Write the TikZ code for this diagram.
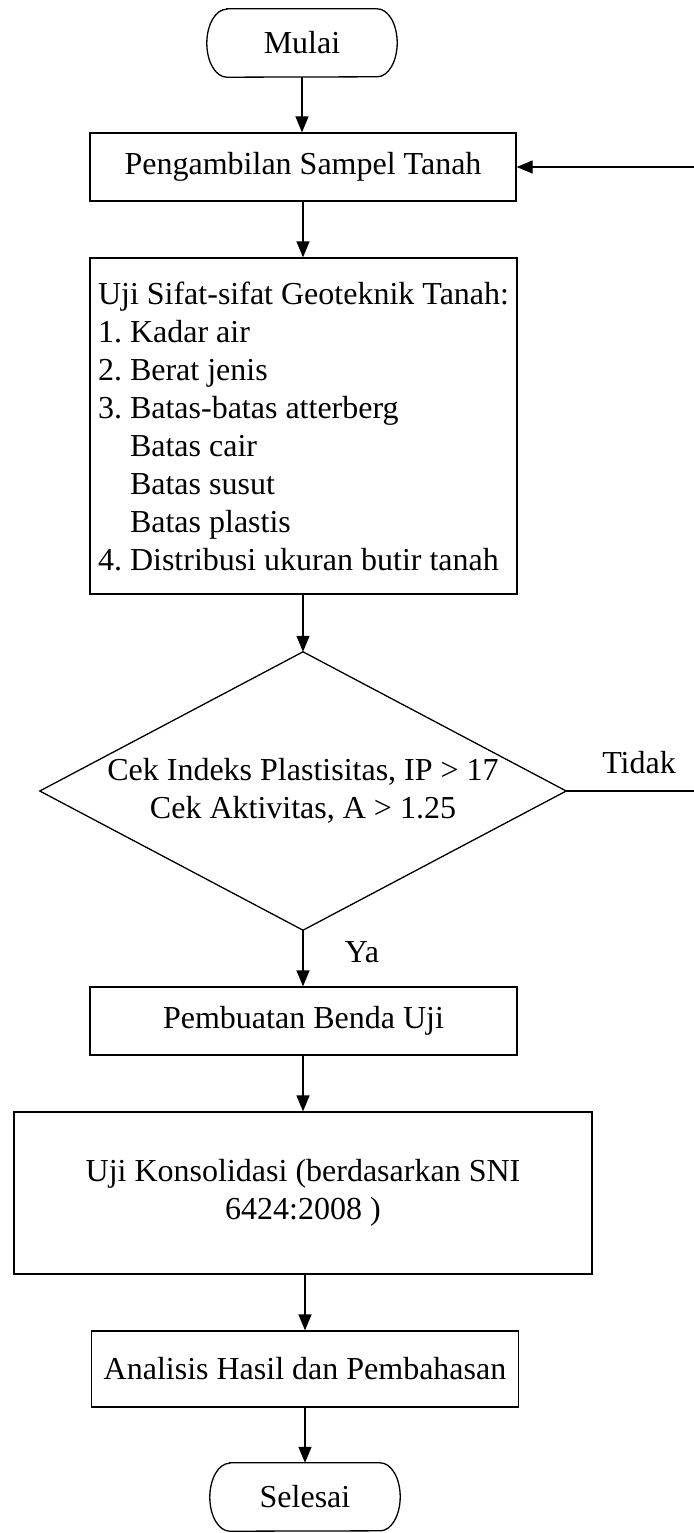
\documentclass[tikz,border=0pt]{standalone}
\usepackage{fontspec}
\setmainfont{Liberation Serif}
\usetikzlibrary{arrows.meta}
\frenchspacing
\begin{document}
\begin{tikzpicture}[x=1pt,y=1pt,
  font=\fontsize{32}{38}\selectfont\frenchspacing,
  ln/.style={line width=1.3pt},
  box/.style={draw,line width=1.3pt,inner sep=0pt,align=center},
  term/.style={inner sep=0pt,minimum width=190pt,minimum height=68pt},
  arr/.style={line width=1.3pt,-{Triangle[length=16pt,width=13pt]}},
  lbl/.style={anchor=base,inner sep=0pt}]
\useasboundingbox (0,0) rectangle (693,-1533);

% terminators
\node[term] (start) at (302,-43) {Mulai};
\draw[ln] ([xshift=20pt]start.north west) -- ([xshift=-20pt]start.north east)
  arc[start angle=90,end angle=-90,x radius=20pt,y radius=34pt]
  -- ([xshift=20pt]start.south west)
  arc[start angle=270,end angle=90,x radius=20pt,y radius=34pt] -- cycle;

\node[box,minimum width=426pt,minimum height=68pt] (peng) at (303,-167) {Pengambilan Sampel Tanah};

\node[box,minimum width=427pt,minimum height=336pt,align=left] (geo) at (303.5,-426)
  {Uji Sifat-sifat Geoteknik Tanah:\\
   1. Kadar air\\
   2. Berat jenis\\
   3. Batas-batas atterberg\\
   \hphantom{1.~}Batas cair\\
   \hphantom{1.~}Batas susut\\
   \hphantom{1.~}Batas plastis\\
   4. Distribusi ukuran butir tanah};

\node[inner sep=0pt,minimum width=526pt,minimum height=278pt,align=center] (dec) at (303,-791)
  {Cek Indeks Plastisitas, IP > 17\\Cek Aktivitas, A > 1.25};
\draw[ln] (dec.north) -- (dec.east) -- (dec.south) -- (dec.west) -- cycle;

\node[box,minimum width=427pt,minimum height=68pt] (buat) at (303.5,-1021) {Pembuatan Benda Uji};

\node[box,minimum width=578pt,minimum height=162pt] (kons) at (303,-1193)
  {Uji Konsolidasi (berdasarkan SNI\\6424:2008 )};

\node[box,minimum width=427pt,minimum height=76pt] (anal) at (305,-1369) {Analisis Hasil dan Pembahasan};

\node[term] (stop) at (305,-1497) {Selesai};
\draw[ln] ([xshift=20pt]stop.north west) -- ([xshift=-20pt]stop.north east)
  arc[start angle=90,end angle=-90,x radius=20pt,y radius=34pt]
  -- ([xshift=20pt]stop.south west)
  arc[start angle=270,end angle=90,x radius=20pt,y radius=34pt] -- cycle;

% connectors
\draw[arr] (start.south) -- (start.south |- peng.north);
\draw[arr] (peng.south) -- (peng.south |- geo.north);
\draw[arr] (geo.south -| dec.north) -- (dec.north);
\draw[arr] (dec.south) -- (dec.south |- buat.north);
\draw[arr] (buat.south -| kons.north) -- (kons.north);
\draw[arr] (kons.south -| anal.north) -- (anal.north);
\draw[arr] (anal.south -| stop.north) -- (stop.north);

\coordinate (fbR) at (695,-791);
\coordinate (fbT) at (695,-167);
\draw[arr] (dec.east) -- (fbR) -- (fbT) -- (peng.east);

\node[lbl] (tidak) at (639,-773) {Tidak};
\node[lbl] (ya) at (362,-962) {Ya};
\end{tikzpicture}
\end{document}
